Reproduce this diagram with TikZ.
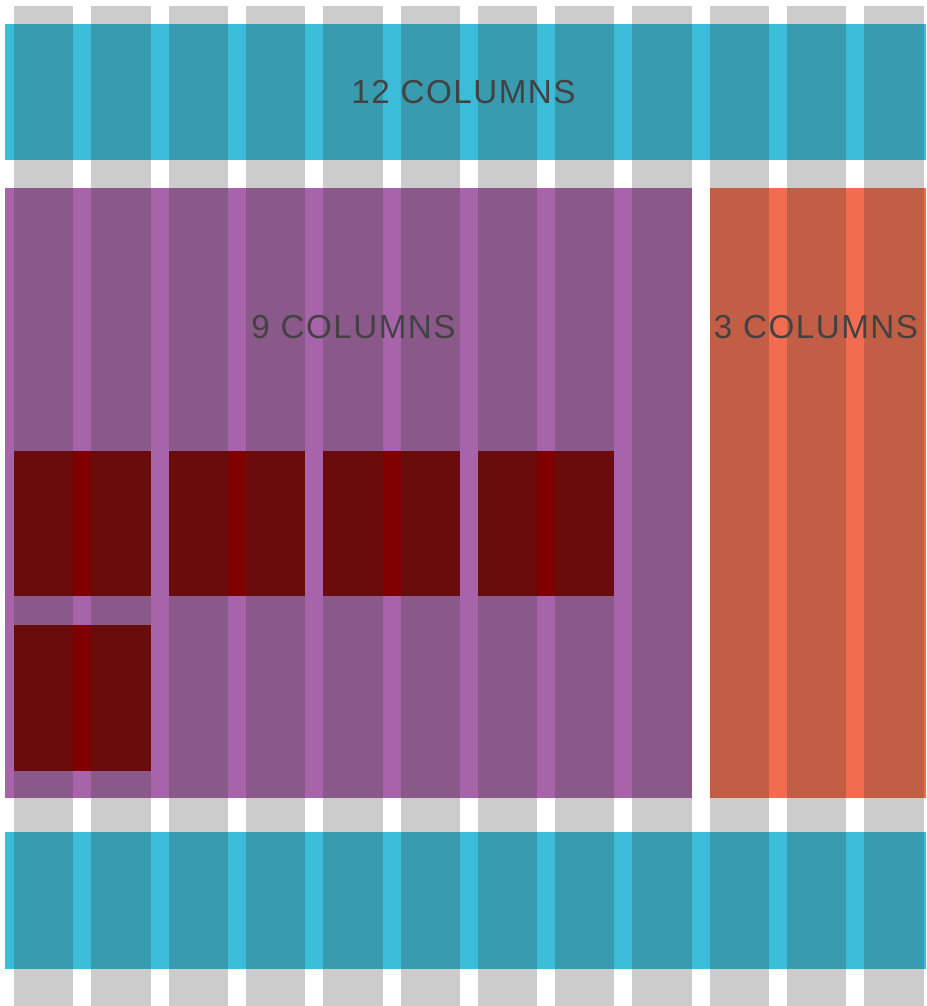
\documentclass[tikz,border=0pt]{standalone}
\usepackage{fontspec}
\newfontfamily\lblfont[LetterSpace=4.5]{Liberation Sans}
\definecolor{gridgray}{HTML}{CCCCCC}
\definecolor{tealL}{HTML}{3BBCD8}
\definecolor{tealD}{HTML}{399BB0}
\definecolor{purpL}{HTML}{A864AA}
\definecolor{purpD}{HTML}{8B588A}
\definecolor{oranL}{HTML}{F26C4F}
\definecolor{oranD}{HTML}{C25E45}
\definecolor{redL}{HTML}{800000}
\definecolor{redD}{HTML}{6A0C0C}
\definecolor{txt}{HTML}{424242}
\tikzset{
  lbl/.style={font=\lblfont\fontsize{33.2}{39}\selectfont, text=txt, inner sep=0pt, anchor=base},
}
\begin{document}
\begin{tikzpicture}[x=1pt,y=-1pt]
\fill[white] (0,0) rectangle (926,1006);
\useasboundingbox (0,0) rectangle (926,1006);
% grid columns
\foreach \i in {0,...,11}
  \fill[gridgray] ({14+77.3*\i},6) rectangle ({73.3+77.3*\i},1006);
% top band
\fill[tealL] (5,24) rectangle (926,160);
\foreach \i in {0,...,11}
  \fill[tealD] ({14+77.3*\i},24) rectangle ({73.3+77.3*\i},160);
% bottom band
\fill[tealL] (5,832) rectangle (926,969);
\foreach \i in {0,...,11}
  \fill[tealD] ({14+77.3*\i},832) rectangle ({73.3+77.3*\i},969);
% purple 9 columns
\fill[purpL] (5,188) rectangle (691.7,798);
\foreach \i in {0,...,8}
  \fill[purpD] ({14+77.3*\i},188) rectangle ({73.3+77.3*\i},798);
% orange 3 columns
\fill[oranL] (709.7,188) rectangle (926,798);
\foreach \i in {9,10,11}
  \fill[oranD] ({14+77.3*\i},188) rectangle ({73.3+77.3*\i},798);
% dark red boxes, row 1
\foreach \k in {0,1,2,3}{
  \fill[redL] ({14+77.3*(2*\k)},451) rectangle ({73.3+77.3*(2*\k+1)},596);
  \fill[redD] ({14+77.3*(2*\k)},451) rectangle ({73.3+77.3*(2*\k)},596);
  \fill[redD] ({14+77.3*(2*\k+1)},451) rectangle ({73.3+77.3*(2*\k+1)},596);
}
% dark red box, row 2
\fill[redL] (14,624.5) rectangle ({73.3+77.3},770.5);
\fill[redD] (14,624.5) rectangle (73.3,770.5);
\fill[redD] ({14+77.3},624.5) rectangle ({73.3+77.3},770.5);
% labels
\node[lbl] (t12) at (463.5,104) {12 COLUMNS};
\node[lbl] (t9) at (353.5,338) {9 COLUMNS};
\node[lbl] (t3) at (816,338) {3 COLUMNS};
\end{tikzpicture}
\end{document}
